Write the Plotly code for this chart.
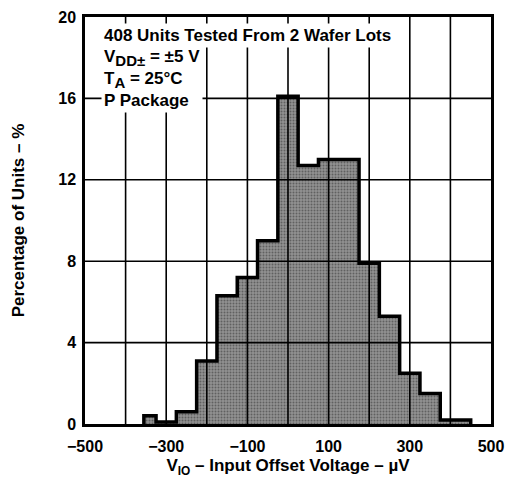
import numpy as np
import plotly.graph_objects as go

# Histogram data (bin edges in µV, percentage of units)
bin_edges = [-355, -325, -275, -225, -175, -125, -75, -25, 25, 75, 175, 225, 275, 325, 375, 450]
percentages = [0.4, 0.1, 0.6, 3.1, 6.3, 7.2, 9.0, 16.1, 12.7, 13.0, 7.9, 5.3, 2.5, 1.5, 0.2]

x_tick_vals = [-500, -300, -100, 100, 300, 500]
x_tick_text = ["−500", "−300", "−100", "100", "300", "500"]
y_tick_vals = [0, 4, 8, 12, 16, 20]
x_grid_step = 100

note_line1 = "408 Units Tested From 2 Wafer Lots"
note_lines_rest = ("V<sub><span style='font-size:15px'>DD±</span></sub> = ±5 V<br>"
                   "T<sub><span style='font-size:15px'>A</span></sub> = 25°C<br>P Package")

X_RANGE = [-500, 500]
Y_RANGE = [0, 20]

edges = np.array(bin_edges, dtype=float)
centers = (edges[:-1] + edges[1:]) / 2
widths = np.diff(edges)

FONT = "Liberation Sans, Arial, Helvetica, sans-serif"

fig = go.Figure()
fig.add_trace(go.Bar(
    x=centers, y=percentages, width=widths,
    marker=dict(color="#868686", line=dict(width=0),
                pattern=dict(shape=".", fgcolor="#2e2e2e", bgcolor="#929292",
                             size=3, solidity=0.35)),
    hoverinfo="skip", showlegend=False,
))

# staircase outline
ox = [edges[0]] + list(edges[:-1]) + [edges[-1]]
oy = [0] + list(percentages) + [0]
fig.add_trace(go.Scatter(
    x=ox, y=oy, mode="lines", line=dict(color="black", width=3.5, shape="hv"),
    hoverinfo="skip", showlegend=False,
))

# grid lines drawn above the bars (as in the reference)
grid_x = np.arange(X_RANGE[0] + x_grid_step, X_RANGE[1], x_grid_step)
for gx in grid_x:
    fig.add_shape(type="line", xref="x", yref="paper", x0=gx, x1=gx, y0=0, y1=1,
                  line=dict(color="black", width=1.6), layer="above")
for gy in y_tick_vals[1:-1]:
    fig.add_shape(type="line", xref="paper", yref="y", x0=0, x1=1, y0=gy, y1=gy,
                  line=dict(color="black", width=1.6), layer="above")

axis_font = dict(family=FONT, size=16, color="black", weight="bold")

fig.update_layout(
    width=513, height=485,
    margin=dict(l=85, r=15, t=9, b=61),
    paper_bgcolor="white", plot_bgcolor="white",
    font=dict(family=FONT, color="black"),
    bargap=0,
    xaxis=dict(
        range=X_RANGE, tickvals=x_tick_vals, ticktext=x_tick_text,
        tickfont=axis_font, ticks="", ticklabelstandoff=6,
        showgrid=False, zeroline=False,
        showline=True, linecolor="black", linewidth=2.5, mirror=True,
        title=dict(text="V<sub>IO</sub> – Input Offset Voltage – µV",
                   font=dict(family=FONT, size=17, color="black", weight="bold"), standoff=6),
    ),
    yaxis=dict(
        range=Y_RANGE, tickvals=y_tick_vals,
        tickfont=axis_font, ticks="", ticklabelstandoff=3,
        showgrid=False, zeroline=False,
        showline=True, linecolor="black", linewidth=2.5, mirror=True,
        title=dict(text="Percentage of Units – %",
                   font=dict(family=FONT, size=17, color="black", weight="bold"), standoff=30),
    ),
)

fig.add_annotation(
    xref="paper", yref="paper", x=0.04, y=0.985, xanchor="left", yanchor="top",
    text=note_line1, showarrow=False, align="left", bgcolor="white", borderpad=2,
    font=dict(family=FONT, size=17, color="black", weight="bold"),
)
fig.add_annotation(
    xref="paper", yref="paper", x=0.04, y=0.934, xanchor="left", yanchor="top",
    text=note_lines_rest, showarrow=False, align="left", bgcolor="white", borderpad=2,
    font=dict(family=FONT, size=17, color="black", weight="bold"),
)

fig.write_html("out.html")
